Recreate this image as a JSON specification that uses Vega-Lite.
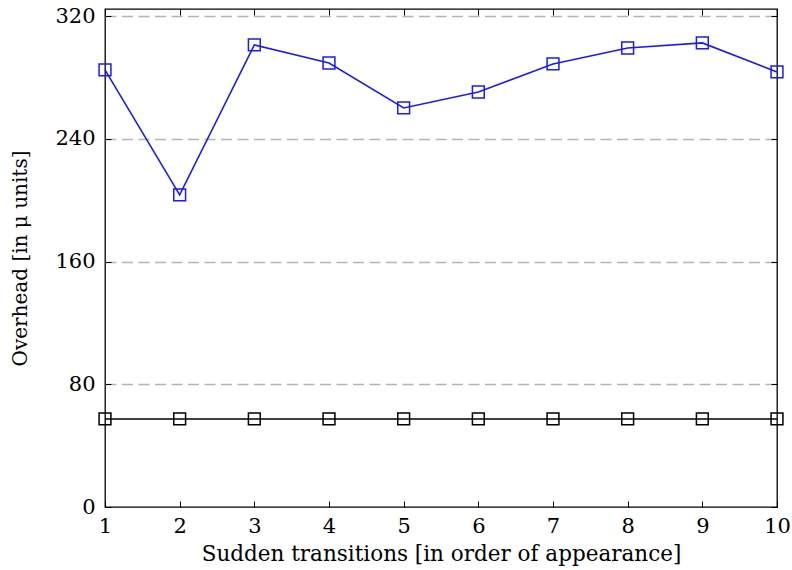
{
  "$schema": "https://vega.github.io/schema/vega-lite/v6.json",
  "autosize": {"type": "none"},
  "width": 672,
  "height": 498,
  "padding": {"left": 105, "top": 9, "right": 15, "bottom": 63},
  "background": "white",
  "config": {
    "view": {"stroke": "black", "strokeWidth": 1.3},
    "axis": {
      "labelFont": "DejaVu Serif",
      "titleFont": "DejaVu Serif",
      "labelFontSize": 21,
      "titleFontSize": 20,
      "titleFontWeight": "normal",
      "labelColor": "black",
      "titleColor": "black",
      "domain": false,
      "tickColor": "black",
      "tickWidth": 1,
      "tickSize": -6,
      "labelFlush": false
    }
  },
  "data": {
    "values": [
      {"t": 1, "v": 284.9, "s": "A"},
      {"t": 2, "v": 203.4, "s": "A"},
      {"t": 3, "v": 301.2, "s": "A"},
      {"t": 4, "v": 289.4, "s": "A"},
      {"t": 5, "v": 260.1, "s": "A"},
      {"t": 6, "v": 270.5, "s": "A"},
      {"t": 7, "v": 288.8, "s": "A"},
      {"t": 8, "v": 299.2, "s": "A"},
      {"t": 9, "v": 302.5, "s": "A"},
      {"t": 10, "v": 283.6, "s": "A"},
      {"t": 1, "v": 57.4, "s": "B"},
      {"t": 2, "v": 57.4, "s": "B"},
      {"t": 3, "v": 57.4, "s": "B"},
      {"t": 4, "v": 57.4, "s": "B"},
      {"t": 5, "v": 57.4, "s": "B"},
      {"t": 6, "v": 57.4, "s": "B"},
      {"t": 7, "v": 57.4, "s": "B"},
      {"t": 8, "v": 57.4, "s": "B"},
      {"t": 9, "v": 57.4, "s": "B"},
      {"t": 10, "v": 57.4, "s": "B"}
    ]
  },
  "layer": [
    {
      "mark": {"type": "line", "strokeWidth": 1.6, "clip": false},
      "encoding": {
        "x": {
          "field": "t", "type": "quantitative",
          "scale": {"domain": [1, 10], "nice": false, "zero": false},
          "axis": {
            "orient": "bottom",
            "values": [1, 2, 3, 4, 5, 6, 7, 8, 9, 10],
            "title": "Sudden transitions [in order of appearance]",
            "titleFontSize": 21.5,
            "grid": false,
            "labelPadding": 14,
            "titlePadding": 7
          }
        },
        "y": {
          "field": "v", "type": "quantitative",
          "scale": {"domain": [0, 324.6], "nice": false},
          "axis": {
            "orient": "left",
            "values": [0, 80, 160, 240, 320],
            "title": "Overhead [in μ units]",
            "grid": true,
            "gridColor": "#b5b5b5",
            "gridDash": [11, 5.5],
            "gridWidth": 1.3,
            "gridOpacity": {"condition": {"test": "datum.value === 0", "value": 0}, "value": 1},
            "labelPadding": 16,
            "titlePadding": 24
          }
        },
        "color": {
          "field": "s", "type": "nominal",
          "scale": {"domain": ["A", "B"], "range": ["#1a1aff", "#000000"]},
          "legend": null
        }
      }
    },
    {
      "mark": {"type": "point", "shape": "square", "filled": false, "size": 140, "strokeWidth": 1.5, "opacity": 1, "clip": false},
      "encoding": {
        "x": {
          "field": "t", "type": "quantitative",
          "axis": {
            "orient": "top",
            "values": [1, 2, 3, 4, 5, 6, 7, 8, 9, 10],
            "labels": false,
            "title": null,
            "grid": false
          }
        },
        "y": {
          "field": "v", "type": "quantitative",
          "axis": {
            "orient": "right",
            "values": [0, 80, 160, 240, 320],
            "labels": false,
            "title": null,
            "grid": false
          }
        },
        "color": {
          "field": "s", "type": "nominal",
          "scale": {"domain": ["A", "B"], "range": ["#1a1aff", "#000000"]},
          "legend": null
        }
      }
    }
  ],
  "resolve": {"axis": {"x": "independent", "y": "independent"}}
}
